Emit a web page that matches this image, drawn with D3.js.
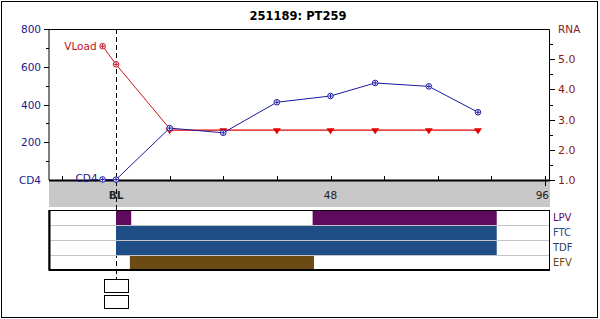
<!DOCTYPE html>
<html>
<head>
<meta charset="utf-8">
<script src="https://cdn.jsdelivr.net/npm/d3@7"></script>
<style>
  body { margin: 0; background: #fff; }
  text { font-family: "DejaVu Sans", Verdana, sans-serif; }
</style>
</head>
<body>
<svg width="600" height="319"></svg>
<script>
// chart values
const title = "251189: PT259";
const cd4Weeks = [-3, 0, 12, 24, 36, 48, 58, 70, 81];
const cd4Values = [3, 2, 275, 250, 412, 445, 514, 496, 359];
const rnaWeeks = [-3, 0, 12];
const rnaValues = [5.43, 4.83, 2.7];
const rnaLowWeeks = [12, 24, 36, 48, 58, 70, 81];
const rnaLowValues = [2.65, 2.65, 2.65, 2.65, 2.65, 2.65, 2.65];
const cd4Ticks = [200, 400, 600, 800];
const rnaTicks = [1, 2, 3, 4, 5];
const weekTicks = [0, 48, 96];
const drugs = ["LPV", "FTC", "TDF", "EFV"];
const drugColors = { LPV: "#5e0a5e", FTC: "#1f4d86", TDF: "#1f4d86", EFV: "#6b4a14" };
const drugLabelColors = { LPV: "#5e0a5e", FTC: "#1f4d86", TDF: "#2c3e5c", EFV: "#6b4a14" };
const regimens = [
  { drug: "LPV", start: 0, end: 3.4 },
  { drug: "LPV", start: 44, end: 85.2 },
  { drug: "FTC", start: 0, end: 85.2 },
  { drug: "TDF", start: 0, end: 85.2 },
  { drug: "EFV", start: 3.1, end: 44.3 }
];

const svg = d3.select("svg");
const plot = { left: 49, right: 550, top: 29, bottom: 180 };

const x = d3.scaleLinear().domain([0, 96]).range([116, 545]);
const yCd4 = d3.scaleLinear().domain([0, 800]).range([plot.bottom, plot.top]);
const yRna = d3.scaleLinear().domain([1, 6]).range([plot.bottom, plot.top]);

// outer frame
svg.append("rect")
  .attr("x", 1.5).attr("y", 1.5).attr("width", 596).attr("height", 316)
  .attr("fill", "none").attr("stroke", "#000");

// title
svg.append("text")
  .attr("x", 298).attr("y", 20)
  .attr("text-anchor", "middle")
  .attr("font-family", "DejaVu Sans Mono")
  .attr("font-weight", "bold")
  .attr("font-size", "11.5px")
  .text(title);

// plot box
svg.append("path")
  .attr("d", `M${plot.left},${plot.bottom}V${plot.top + 0.5}H${plot.right - 0.5}V${plot.bottom}`)
  .attr("fill", "none").attr("stroke", "#000");

// gray band under x axis
svg.append("rect")
  .attr("x", plot.left).attr("y", plot.bottom + 1)
  .attr("width", plot.right - plot.left).attr("height", 26)
  .attr("fill", "#c8c8c8");

// left axis
const leftAxis = svg.append("g").attr("transform", `translate(${plot.left},0)`);
const cd4Minor = d3.range(100, 800, 200);
leftAxis.selectAll("line.major").data(cd4Ticks).join("line")
  .attr("x1", -5).attr("x2", 0)
  .attr("y1", d => Math.round(yCd4(d)) + 0.5).attr("y2", d => Math.round(yCd4(d)) + 0.5)
  .attr("stroke", "#000");
leftAxis.selectAll("line.minor").data(cd4Minor).join("line")
  .attr("x1", -3).attr("x2", 0)
  .attr("y1", d => Math.round(yCd4(d)) + 0.5).attr("y2", d => Math.round(yCd4(d)) + 0.5)
  .attr("stroke", "#000");
leftAxis.selectAll("text").data([0, ...cd4Ticks]).join("text")
  .attr("x", -8).attr("y", d => yCd4(d) + 4)
  .attr("text-anchor", "end")
  .attr("font-size", "10.5px")
  .attr("fill", "#1a1a8c")
  .text(d => d === 0 ? "CD4" : d);

// right axis
const rightAxis = svg.append("g").attr("transform", `translate(${plot.right},0)`);
const rnaMinor = d3.range(1.5, 6, 1);
rightAxis.selectAll("line.major").data(rnaTicks).join("line")
  .attr("x1", 0).attr("x2", 5)
  .attr("y1", d => Math.round(yRna(d)) + 0.5).attr("y2", d => Math.round(yRna(d)) + 0.5)
  .attr("stroke", "#000");
rightAxis.selectAll("line.minor").data(rnaMinor).join("line")
  .attr("x1", 0).attr("x2", 3)
  .attr("y1", d => Math.round(yRna(d)) + 0.5).attr("y2", d => Math.round(yRna(d)) + 0.5)
  .attr("stroke", "#000");
rightAxis.selectAll("text.tick").data(rnaTicks).join("text")
  .attr("x", 8).attr("y", d => yRna(d) + 4)
  .attr("font-family", "DejaVu Sans Mono")
  .attr("font-size", "11px")
  .attr("fill", "#8b1a1a")
  .text(d => d.toFixed(1));
rightAxis.append("text")
  .attr("x", 8).attr("y", plot.top + 4)
  .attr("font-size", "10.5px")
  .attr("fill", "#8b1a1a")
  .text("RNA");

// x axis ticks (every 12 weeks, inside)
const weekMinor = d3.range(-12, 96, 12);
svg.append("g").selectAll("line").data(weekMinor).join("line")
  .attr("x1", d => Math.round(x(d)) + 0.5).attr("x2", d => Math.round(x(d)) + 0.5)
  .attr("y1", plot.bottom - 4).attr("y2", plot.bottom)
  .attr("stroke", "#000");
svg.append("line")
  .attr("x1", Math.round(x(96)) + 0.5).attr("x2", Math.round(x(96)) + 0.5)
  .attr("y1", plot.bottom - 4).attr("y2", plot.bottom + 6)
  .attr("stroke", "#000");
svg.append("g").selectAll("text").data(weekTicks).join("text")
  .attr("x", d => d === 96 ? x(d) + 4 : x(d))
  .attr("y", 199)
  .attr("text-anchor", d => d === 96 ? "end" : "middle")
  .attr("font-size", "10.5px")
  .attr("font-weight", d => d === 0 ? "bold" : "normal")
  .attr("fill", "#222")
  .text(d => d === 0 ? "BL" : d);

// x axis line (thick)
svg.append("line")
  .attr("x1", plot.left).attr("x2", plot.right)
  .attr("y1", plot.bottom + 0.5).attr("y2", plot.bottom + 0.5)
  .attr("stroke", "#000").attr("stroke-width", 2);

// baseline dashed line
svg.append("line")
  .attr("x1", x(0) + 0.5).attr("x2", x(0) + 0.5)
  .attr("y1", plot.top).attr("y2", 279)
  .attr("stroke", "#000").attr("stroke-dasharray", "5,3");

// RNA series
const rnaLine = d3.line().x(d => x(d[0])).y(d => yRna(d[1]));
svg.append("path")
  .datum(d3.zip(rnaLowWeeks, rnaLowValues))
  .attr("d", rnaLine)
  .attr("fill", "none").attr("stroke", "#e00000").attr("stroke-width", 1.3);
svg.append("path")
  .datum(d3.zip(rnaWeeks, rnaValues))
  .attr("d", rnaLine)
  .attr("fill", "none").attr("stroke", "#d01010");
svg.append("g").selectAll("path").data(d3.zip(rnaLowWeeks, rnaLowValues)).join("path")
  .attr("d", d => `M${x(d[0]) - 4},${yRna(d[1]) - 2}h8l-4,6z`)
  .attr("fill", "#e00000");
const rnaPts = svg.append("g").selectAll("g").data(d3.zip(rnaWeeks, rnaValues)).join("g")
  .attr("transform", d => `translate(${x(d[0])},${yRna(d[1])})`);
rnaPts.append("circle").attr("r", 2.8).attr("fill", "#fff").attr("stroke", "#c01020");
rnaPts.append("path").attr("d", "M-2,0h4M0,-2v4").attr("stroke", "#c01020");
svg.append("text")
  .attr("x", x(rnaWeeks[0]) - 6).attr("y", yRna(rnaValues[0]) + 4)
  .attr("text-anchor", "end")
  .attr("font-size", "10.5px")
  .attr("fill", "#c01020")
  .text("VLoad");

// CD4 series
const cd4Line = d3.line().x(d => x(d[0])).y(d => yCd4(d[1]));
svg.append("path")
  .datum(d3.zip(cd4Weeks, cd4Values))
  .attr("d", cd4Line)
  .attr("fill", "none").attr("stroke", "#1a1aa0");
const cd4Pts = svg.append("g").selectAll("g").data(d3.zip(cd4Weeks, cd4Values)).join("g")
  .attr("transform", d => `translate(${x(d[0])},${yCd4(d[1])})`);
cd4Pts.append("circle").attr("r", 2.8).attr("fill", "#fff").attr("stroke", "#1a1aa0");
cd4Pts.append("path").attr("d", "M-2,0h4M0,-2v4").attr("stroke", "#1a1aa0");
svg.append("text")
  .attr("x", x(cd4Weeks[0]) - 5).attr("y", yCd4(cd4Values[0]) + 3)
  .attr("text-anchor", "end")
  .attr("font-size", "10.5px")
  .attr("fill", "#1a1a8c")
  .text("CD4");

// drug panel
const rowY = d3.scaleBand().domain(drugs).range([210, 270]);
const panel = svg.append("g");
panel.selectAll("line.sep").data(drugs.slice(1)).join("line")
  .attr("x1", plot.left).attr("x2", plot.right)
  .attr("y1", d => rowY(d) + 0.5).attr("y2", d => rowY(d) + 0.5)
  .attr("stroke", "#c4c4c4");
panel.selectAll("rect.bar").data(regimens).join("rect")
  .attr("x", d => x(d.start)).attr("width", d => x(d.end) - x(d.start))
  .attr("y", d => rowY(d.drug) + 1).attr("height", rowY.bandwidth() - 1)
  .attr("fill", d => drugColors[d.drug]);
panel.append("rect")
  .attr("x", plot.left).attr("y", 210.5)
  .attr("width", plot.right - plot.left - 0.5).attr("height", 59)
  .attr("fill", "none").attr("stroke", "#000");
panel.append("path")
  .attr("d", `M${plot.left},${270}H${plot.right}M${plot.left + 0.5},210V271`)
  .attr("stroke", "#000").attr("stroke-width", 2);
panel.selectAll("text").data(drugs).join("text")
  .attr("x", 553).attr("y", d => rowY(d) + 11)
  .attr("font-size", "10px")
  .attr("fill", d => drugLabelColors[d])
  .text(d => d);

// small boxes under baseline
svg.append("g").selectAll("rect").data([279, 295]).join("rect")
  .attr("x", 104.5).attr("y", d => d + 0.5)
  .attr("width", 24).attr("height", 13)
  .attr("fill", "#fff").attr("stroke", "#000");
</script>
</body>
</html>
